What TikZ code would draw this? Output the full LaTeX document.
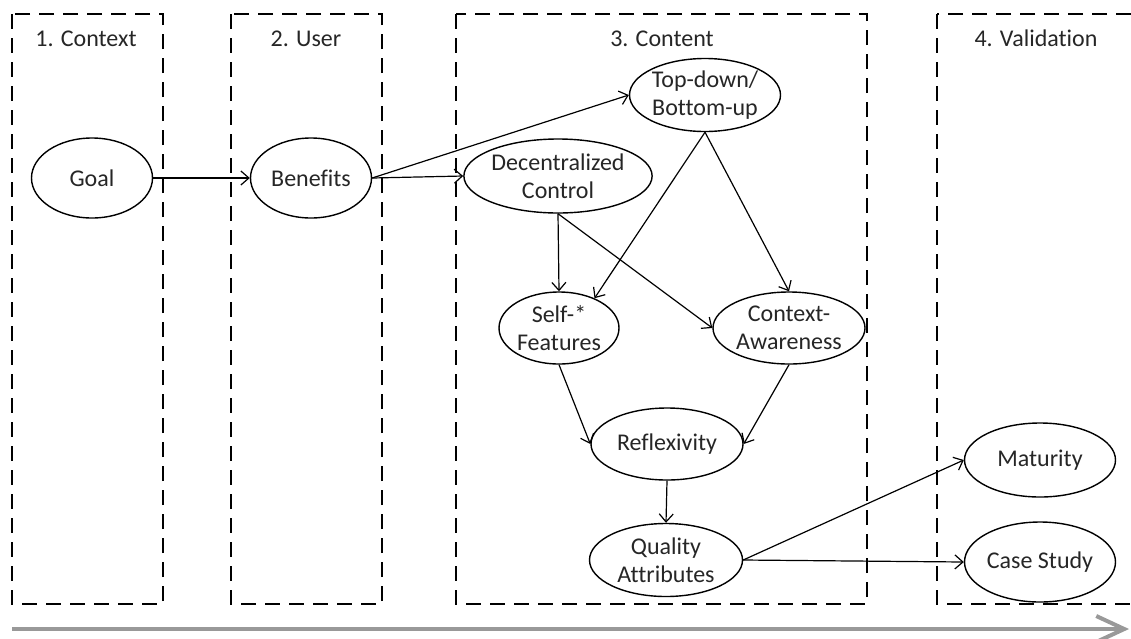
\documentclass[tikz,border=0pt]{standalone}
\usepackage{fontspec}
\setmainfont{Carlito}[Ligatures=NoCommon]
\usetikzlibrary{shapes.geometric,arrows.meta}

\begin{document}
\begin{tikzpicture}[x=1pt, y=-1pt]
\useasboundingbox (0,0) rectangle (1131,638);

\coordinate (B1_1) at (12, 14);
\coordinate (B1_2) at (163, 604);
\coordinate (B2_1) at (231, 14);
\coordinate (B2_2) at (382, 604);
\coordinate (B3_1) at (456, 14);
\coordinate (B3_2) at (867, 604);
\coordinate (B4_1) at (937, 14);
\coordinate (B4_2) at (1140, 604);
\coordinate (A_1) at (12, 629);
\coordinate (A_2) at (1129, 629);


\tikzset{BoxStyle/.style = {line width=2.2pt, dash pattern=on 15pt off 9pt} }

\draw[BoxStyle] (B1_1) rectangle (B1_2);
\draw[BoxStyle] (B2_1) rectangle (B2_2);
\draw[BoxStyle] (B3_1) rectangle (B3_2);
\draw[BoxStyle] (B4_1) rectangle (B4_2);


\tikzset{TitleStyle/.style = {
 anchor = base,
 inner sep = 0pt,
 text = black!85,
 font = \fontsize{24}{28}\selectfont} }

\node[TitleStyle] (T1) at (86, 46) {1. Context};
\node[TitleStyle] (T2) at (306, 46) {2. User};
\node[TitleStyle] (T3) at (662, 46) {3. Content};
\node[TitleStyle] (T4) at (1036, 46) {4. Validation};


\tikzset{NodeStyle/.style = {
 shape = ellipse,
 draw = black,
 line width = 1.4pt,
 fill = white,
 text = black!85,
 align = center,
 inner sep = 0pt,
 font = \fontsize{24}{28}\selectfont} }

\node[NodeStyle, minimum width=121pt, minimum height=80pt] (Goal) at (92, 178) {Goal};
\node[NodeStyle, minimum width=121pt, minimum height=80pt] (Benefits) at (311, 178) {Benefits};
\node[NodeStyle, minimum width=151pt, minimum height=73pt] (TopDown) at (705, 95) {Top-down/\\Bottom-up};
\node[NodeStyle, minimum width=180pt, minimum height=74pt] (Decentral) at (558, 176) {Decentralized\\Control};
\node[NodeStyle, minimum width=120pt, minimum height=72pt] (SelfStar) at (559, 328) {Self-*\\Features};
\node[NodeStyle, minimum width=152pt, minimum height=72pt] (Context) at (789, 328) {Context-\\Awareness};
\node[NodeStyle, minimum width=152pt, minimum height=72pt] (Reflex) at (667, 444) {Reflexivity};
\node[NodeStyle, minimum width=153pt, minimum height=73pt] (Quality) at (666, 560) {Quality\\Attributes};
\node[NodeStyle, minimum width=151pt, minimum height=74pt] (Maturity) at (1040, 460) {Maturity};
\node[NodeStyle, minimum width=151pt, minimum height=80pt] (CaseStudy) at (1040, 562) {Case Study};


\tikzset{EdgeStyle/.style = {line width=1.2pt, -{Straight Barb[length=8pt, width=14pt]}} }

\draw[EdgeStyle] (Goal.east) -- (Benefits.west);
\draw[EdgeStyle] (Benefits.east) -- (TopDown.west);
\draw[EdgeStyle] (Benefits.east) -- (Decentral.west);
\draw[EdgeStyle] (TopDown.south) -- (SelfStar.40);
\draw[EdgeStyle] (TopDown.south) -- (Context.north);
\draw[EdgeStyle] (Decentral.south) -- (SelfStar.north);
\draw[EdgeStyle] (Decentral.south) -- (Context.west);
\draw[EdgeStyle] (SelfStar.south) -- (Reflex.west);
\draw[EdgeStyle] (Context.south) -- (Reflex.east);
\draw[EdgeStyle] (Reflex.south) -- (Quality.north);
\draw[EdgeStyle] (Quality.east) -- (Maturity.west);
\draw[EdgeStyle] (Quality.east) -- (CaseStudy.west);


\tikzset{TimeStyle/.style = {line width=4pt, black!40, -{Straight Barb[length=28pt, width=26pt]}} }

\draw[TimeStyle] (A_1) -- (A_2);

\end{tikzpicture}
\end{document}
